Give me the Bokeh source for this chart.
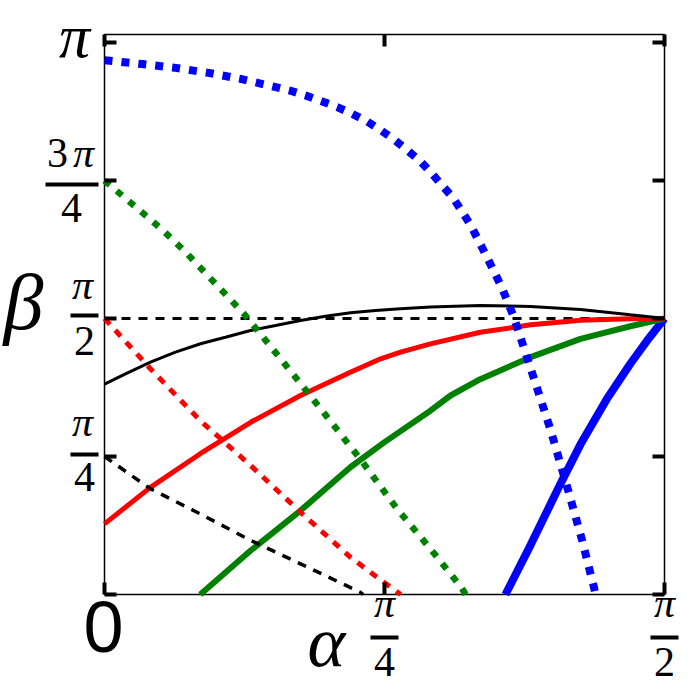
import numpy as np
from bokeh.plotting import figure
from bokeh.models import Range1d
from bokeh.core.properties import value
from bokeh.embed import file_html
from bokeh.resources import INLINE

# ---- data: alpha in units of pi/2, beta in units of pi ----
ref_a = [0.0, 1.0]
ref_b = [0.5, 0.5]

black_solid_a = [0.0, 0.0375, 0.0821, 0.1268, 0.1714, 0.216, 0.2607, 0.3054, 0.35, 0.3946,
                 0.4393, 0.4839, 0.5286, 0.582, 0.671, 0.761, 0.85, 0.939, 0.993, 1.0]
black_solid_b = [0.381, 0.3998, 0.4208, 0.439, 0.4542, 0.4661, 0.4783, 0.4873, 0.4964, 0.5042,
                 0.5103, 0.5145, 0.5175, 0.521, 0.5236, 0.5217, 0.5163, 0.5067, 0.501, 0.5]

red_solid_a = [0.0, 0.082, 0.171, 0.261, 0.35, 0.439, 0.493, 0.5286, 0.582, 0.671, 0.761, 0.85, 0.939, 1.0]
red_solid_b = [0.128, 0.194, 0.255, 0.312, 0.3605, 0.4027, 0.427, 0.439, 0.454, 0.475, 0.4885, 0.497, 0.4997, 0.5]

green_solid_a = [0.171, 0.261, 0.35, 0.439, 0.5, 0.582, 0.618, 0.671, 0.761, 0.85, 0.939, 1.0]
green_solid_b = [0.0, 0.0797, 0.152, 0.2306, 0.276, 0.333, 0.3605, 0.390, 0.43, 0.463, 0.486, 0.5]

blue_solid_a = [0.716, 0.761, 0.814, 0.85, 0.8976, 0.939, 0.969, 1.0]
blue_solid_b = [0.0, 0.09, 0.2, 0.272, 0.355, 0.418, 0.46, 0.5]

black_dash_a = [0.0, 0.082, 0.171, 0.261, 0.35, 0.457, 0.462]
black_dash_b = [0.25, 0.1915, 0.146, 0.098, 0.0556, 0.004, 0.0]

red_dash_a = [0.0, 0.082, 0.171, 0.261, 0.35, 0.439, 0.499, 0.529]
red_dash_b = [0.5, 0.409, 0.315, 0.2337, 0.149, 0.0676, 0.022, 0.0]

green_dot_a = [0.0, 0.058, 0.103, 0.145, 0.186, 0.228, 0.249, 0.284, 0.341, 0.398, 0.454, 0.505, 0.5226, 0.582, 0.636, 0.645]
green_dot_b = [0.75, 0.70, 0.661, 0.62, 0.576, 0.531, 0.5085, 0.465, 0.3937, 0.321, 0.249, 0.179, 0.155, 0.0828, 0.0145, 0.0]

blue_dot_a = [0.0, 0.067, 0.127, 0.186, 0.243, 0.302, 0.331, 0.359, 0.3875, 0.4155, 0.442, 0.469,
              0.494, 0.518, 0.5417, 0.564, 0.585, 0.604, 0.6226, 0.654, 0.683, 0.710, 0.731,
              0.767, 0.796, 0.829, 0.853, 0.874, 0.877]
blue_dot_b = [0.968, 0.961, 0.954, 0.945, 0.934, 0.920, 0.913, 0.904, 0.8937, 0.883, 0.871, 0.857,
              0.8406, 0.8237, 0.804, 0.785, 0.762, 0.7397, 0.7186, 0.669, 0.611, 0.555, 0.5024,
              0.391, 0.30, 0.185, 0.0978, 0.013, 0.0]

x_ticks = [0.0, 0.5, 1.0]              # units of pi/2
y_ticks = [0.0, 0.25, 0.5, 0.75, 1.0]  # units of pi

HALF_PI = np.pi / 2
W = H = 684
FRAME_L, FRAME_R, FRAME_T, FRAME_B = 104, 664, 34, 594
PX_PER_PI = 552.0
BASE_SHIFT = 0.36   # em offset between requested and drawn baseline


def A(a):
    return np.asarray(a, dtype=float) * HALF_PI


def B(b):
    return np.asarray(b, dtype=float) * np.pi


def dx(px):
    return (px - FRAME_L) / (FRAME_R - FRAME_L) * HALF_PI


def dy(py):
    return (FRAME_B - py) * np.pi / PX_PER_PI


Y_MAX = dy(FRAME_T)

p = figure(width=W, height=H,
           x_range=Range1d(dx(0), dx(W)), y_range=Range1d(dy(H), dy(0)),
           output_backend="svg", toolbar_location=None, min_border=0,
           background_fill_color="white", border_fill_color="white")
p.grid.visible = False
p.axis.visible = False
p.outline_line_color = None

# frame box
p.quad(left=[0.0], right=[HALF_PI], bottom=[0.0], top=[Y_MAX],
       fill_color=None, line_color="black", line_width=1.5)

# reference line
p.line(A(ref_a), B(ref_b), line_color="black", line_width=3, line_dash="9 8")
# solid curves
p.line(A(blue_solid_a), B(blue_solid_b), line_color="#0000ff", line_width=8)
p.line(A(green_solid_a), B(green_solid_b), line_color="#008000", line_width=6)
p.line(A(red_solid_a), B(red_solid_b), line_color="#ff0000", line_width=5)
p.line(A(black_solid_a), B(black_solid_b), line_color="black", line_width=3)
# dashed curves
p.line(A(black_dash_a), B(black_dash_b), line_color="black", line_width=3.5, line_dash="9 8")
p.line(A(red_dash_a), B(red_dash_b), line_color="#ff0000", line_width=5, line_dash="8 8")
p.line(A(green_dot_a), B(green_dot_b), line_color="#008000", line_width=6.5, line_dash="7 9")
p.line(A(blue_dot_a), B(blue_dot_b), line_color="#0000ff", line_width=8, line_dash="8 9")

# tick marks (inward, on all four sides)
TL = 12
xt = A(x_ticks)
yt = B(y_ticks)
p.segment(x0=xt, y0=np.zeros_like(xt), x1=xt, y1=np.full_like(xt, dy(FRAME_B - TL)),
          line_color="black", line_width=4)
p.segment(x0=xt, y0=np.full_like(xt, Y_MAX), x1=xt, y1=np.full_like(xt, dy(FRAME_T + TL)),
          line_color="black", line_width=4)
p.segment(x0=np.zeros_like(yt), y0=yt, x1=np.full_like(yt, dx(FRAME_L + TL)), y1=yt,
          line_color="black", line_width=4)
p.segment(x0=np.full_like(yt, HALF_PI), y0=yt, x1=np.full_like(yt, dx(FRAME_R - TL)), y1=yt,
          line_color="black", line_width=4)

SERIF = "Liberation Serif"


def texts(items, size, font=SERIF, style="normal"):
    off = BASE_SHIFT * size
    p.text(x=[dx(t[1]) for t in items], y=[dy(t[2] - off) for t in items],
           text=[t[0] for t in items], text_font=value(font),
           text_font_size=value(f"{size}px"), text_font_style=style,
           text_align="center", text_baseline="alphabetic", text_color="black")


def bars(items):
    p.quad(left=[dx(b[0]) for b in items], right=[dx(b[1]) for b in items],
           top=[dy(b[2]) for b in items], bottom=[dy(b[3]) for b in items],
           fill_color="black", line_color=None)


FS = 42
# numerals (upright)
texts([("3", 57, 168), ("4", 71, 223), ("2", 84, 356), ("4", 84, 492),
       ("4", 384, 677), ("2", 664, 677)], FS)
# pi numerators (italic)
texts([("π", 83, 168), ("π", 82, 300), ("π", 82, 437),
       ("π", 384, 618), ("π", 664, 618)], FS, style="italic")
texts([("π", 74, 58)], 62, style="italic")
bars([(45, 98, 182, 186), (70, 98, 313, 317), (70, 98, 452, 456),
      (370, 398, 635, 639), (650, 678, 635, 639)])
# axis symbols
texts([("β", 23, 330)], 80, style="italic")
texts([("α", 326, 667)], 72, style="italic")
texts([("0", 103, 652)], 72, font="Liberation Sans")

open("out.html", "w").write(file_html(p, INLINE))
